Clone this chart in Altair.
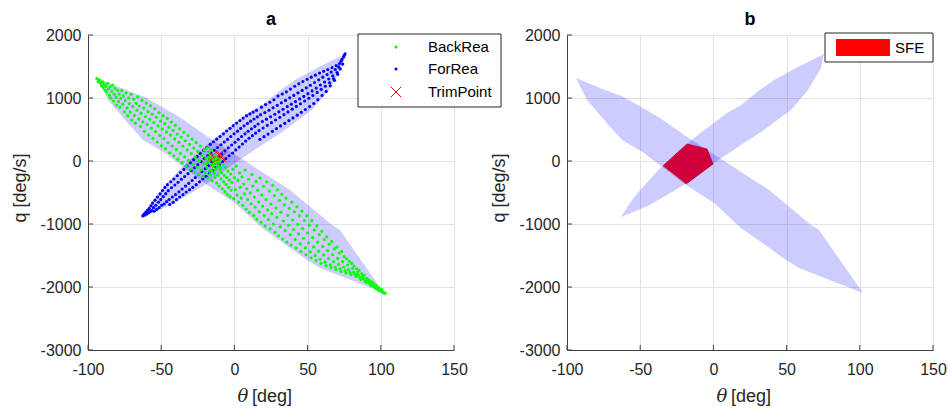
import altair as alt
import pandas as pd

FONT = "Liberation Sans"
TXT = "#262626"
AXC = "#404040"

x_ticks = [-100, -50, 0, 50, 100, 150]
y_ticks = [-3000, -2000, -1000, 0, 1000, 2000]
panel_titles = ["a", "b"]
x_title_sym = ["θ"]
x_title_unit = ["[deg]"]
y_title = ["q [deg/s]"]
legend_a_labels = ["BackRea", "ForRea", "TrimPoint"]
legend_b_labels = ["SFE"]

# BackRea reachable points (theta [deg], q [deg/s])
back_rea = [
    (-94.0, 1310), (-93.1, 1262), (-92.4, 1288), (-91.7, 1241), (-90.8, 1196), (-90.1, 1255),
    (-89.6, 1168), (-88.9, 1219), (-88.3, 1127), (-87.7, 1184), (-87.2, 1095), (-86.6, 1232),
    (-86.1, 1143), (-85.4, 1041), (-85.0, 1178), (-84.3, 998), (-83.8, 1106), (-83.2, 1204),
    (-82.7, 952), (-82.1, 1061), (-81.6, 1152), (-80.9, 1013), (-80.4, 887), (-79.8, 1121),
    (-79.1, 944), (-78.7, 1062), (-78.2, 851), (-77.6, 993), (-76.9, 1117), (-76.3, 902),
    (-75.8, 1034), (-75.1, 779), (-74.6, 958), (-74.0, 1082), (-73.4, 843), (-72.9, 721),
    (-72.3, 1003), (-71.8, 912), (-71.2, 776), (-70.6, 1058), (-70.1, 651), (-69.5, 867),
    (-68.8, 981), (-68.4, 724), (-67.7, 601), (-67.1, 915), (-66.6, 805), (-66.0, 1019),
    (-65.3, 668), (-64.9, 873), (-64.2, 548), (-63.7, 759), (-63.1, 962), (-62.5, 623),
    (-61.9, 841), (-61.4, 472), (-60.8, 705), (-60.2, 919), (-59.6, 584), (-59.0, 783),
    (-58.5, 412), (-57.9, 661), (-57.3, 876), (-56.7, 519), (-56.2, 742), (-55.6, 358),
    (-55.0, 611), (-54.4, 829), (-53.9, 466), (-53.3, 694), (-52.7, 301), (-52.2, 557),
    (-51.5, 768), (-51.0, 405), (-50.4, 632), (-49.8, 243), (-49.3, 508), (-48.7, 721),
    (-48.1, 356), (-47.6, 592), (-47.0, 197), (-46.4, 462), (-45.9, 676), (-45.3, 289),
    (-44.8, 534), (-44.2, 131), (-43.6, 411), (-43.1, 619), (-42.5, 238), (-41.9, 487),
    (-41.4, 82), (-40.8, 352), (-40.3, 566), (-39.7, 181), (-39.1, 429), (-38.6, 29),
    (-38.0, 296), (-37.4, 512), (-36.9, 122), (-36.3, 381), (-35.7, -31), (-35.2, 238),
    (-34.6, 457), (-34.0, 68), (-33.5, 322), (-32.9, -82), (-32.3, 177), (-31.7, 404),
    (-31.2, 8), (-30.6, 263), (-30.1, -129), (-29.5, 119), (-28.9, 346), (-28.4, -51),
    (-27.8, 207), (-27.2, -176), (-26.7, 61), (-26.1, 291), (-25.5, -98), (-25.0, 153),
    (-24.4, -212), (-23.9, 5), (-23.3, 238), (-22.7, -143),
    (-22.2, 88), (-21.6, -247), (-21.1, -39), (-20.6, 172), (-20.0, -188), (-19.5, 41),
    (-19.1, -96), (-18.6, 211), (-18.2, -271), (-17.8, -12), (-17.3, 127), (-16.9, -158),
    (-16.4, 63), (-16.0, -53), (-15.6, 178), (-15.2, -311), (-14.8, -88), (-14.3, 19),
    (-13.9, -196), (-13.5, 96), (-13.0, -132), (-12.6, -18), (-12.2, -348), (-11.7, 52),
    (-11.3, -227), (-10.9, -71), (-10.4, -398), (-10.0, -140), (-9.6, 11), (-9.1, -283),
    (-8.7, -186), (-8.3, -441), (-7.8, -58), (-7.4, -329), (-7.0, -227), (-6.5, -487),
    (-6.1, -104), (-5.7, -372), (-5.2, -262), (-4.8, -531), (-4.4, -161), (-3.9, -418),
    (-3.5, -303), (-3.0, -566), (-2.6, -206), (-2.2, -462),
    (-14.1, -42), (-12.9, 33), (-11.9, -104), (-15.4, -151), (-16.6, -212), (-13.3, -262),
    (-10.7, -19), (-9.4, -109), (-17.6, 58), (-18.9, -34),
    (-1.6, -341), (-1.1, -129), (-0.5, -598), (0.1, -263), (0.7, -452), (1.2, -81),
    (1.8, -540), (2.3, -307), (2.9, -652), (3.5, -189), (4.0, -418), (4.6, -588),
    (5.1, -251), (5.7, -704), (6.3, -366), (6.8, -523), (7.4, -143), (8.0, -762),
    (8.5, -441), (9.1, -611), (9.7, -289), (10.2, -813), (10.8, -507), (11.4, -678),
    (11.9, -215), (12.5, -397), (13.1, -864), (13.6, -571), (14.2, -731), (14.8, -324),
    (15.3, -926), (15.9, -463), (16.5, -652), (17.0, -808), (17.6, -271), (18.2, -974),
    (18.7, -538), (19.3, -716), (19.9, -402), (20.4, -865), (21.0, -1031), (21.6, -612),
    (22.1, -329), (22.7, -777), (23.3, -928), (23.8, -478), (24.4, -1078), (25.0, -683),
    (25.5, -837), (26.1, -386), (26.7, -1001), (27.3, -549), (27.8, -1133), (28.4, -748),
    (29.0, -893), (29.5, -457), (30.1, -1186), (30.7, -627), (31.3, -1042), (31.8, -812),
    (32.4, -529), (33.0, -1238), (33.5, -952), (34.1, -694), (34.7, -1104), (35.2, -589),
    (35.8, -1287), (36.4, -863), (37.0, -1021), (37.5, -752), (38.1, -1172), (38.7, -1334),
    (39.2, -654), (39.8, -936), (40.4, -1089), (41.0, -806), (41.5, -1246), (42.1, -1381),
    (42.7, -727), (43.2, -1004), (43.8, -1157), (44.4, -872), (45.0, -1313), (45.5, -1436),
    (46.1, -793), (46.7, -1071), (47.2, -1226), (47.8, -945), (48.4, -1378), (48.9, -1488),
    (49.5, -868), (50.1, -1143), (50.7, -1297), (51.2, -1018), (51.8, -1441), (52.4, -1536),
    (52.9, -947), (53.5, -1215), (54.1, -1364), (54.6, -1092), (55.2, -1502), (55.8, -1582),
    (56.3, -1029), (56.9, -1287), (57.5, -1431), (58.0, -1168), (58.6, -1559), (59.2, -1624),
    (59.7, -1117), (60.3, -1356), (60.9, -1492), (61.4, -1246), (62.0, -1606), (62.6, -1661),
    (63.1, -1203), (63.7, -1423), (64.3, -1547), (64.8, -1322), (65.4, -1649), (66.0, -1694),
    (66.5, -1281), (67.1, -1488), (67.7, -1598), (68.2, -1395), (68.8, -1683), (69.4, -1722),
    (69.9, -1368), (70.5, -1545), (71.1, -1641), (71.6, -1461), (72.2, -1711), (72.8, -1752),
    (73.3, -1435), (73.9, -1597), (74.5, -1683), (75.0, -1519), (75.6, -1740), (76.2, -1779),
    (76.7, -1552), (77.3, -1651), (77.9, -1724), (78.4, -1591), (79.0, -1768), (79.6, -1804),
    (80.1, -1625), (80.7, -1702), (81.3, -1765), (81.8, -1668), (82.4, -1797), (83.0, -1832),
    (83.5, -1712), (84.1, -1768), (84.7, -1812), (85.2, -1737), (85.8, -1851), (86.4, -1880),
    (86.9, -1786), (87.5, -1826), (88.1, -1867), (88.6, -1811), (89.2, -1903), (89.8, -1929),
    (90.3, -1862), (90.9, -1889), (91.5, -1930), (92.0, -1892), (92.6, -1952), (93.2, -1973),
    (93.7, -1917), (94.3, -1944), (94.9, -1990), (95.4, -1955), (96.0, -2003), (96.6, -2018),
    (97.1, -1982), (97.7, -2031), (98.3, -2047), (98.8, -2012), (99.4, -2056), (100.0, -2066),
    (100.6, -2041), (101.2, -2078), (101.8, -2089), (102.4, -2094), (103.0, -2101),
]

# ForRea reachable points
for_rea = [
    (-62.6, -872), (-61.8, -841), (-61.2, -858), (-60.5, -812), (-59.9, -843), (-59.3, -781),
    (-58.8, -826), (-58.1, -752), (-57.6, -804), (-57.0, -711), (-56.4, -787), (-55.9, -668),
    (-55.3, -741), (-54.8, -797), (-54.2, -622), (-53.7, -702), (-53.1, -768), (-52.5, -571),
    (-51.9, -655), (-51.4, -741), (-50.8, -523), (-50.3, -612), (-49.7, -704), (-49.1, -468),
    (-48.6, -566), (-48.0, -683), (-47.5, -419), (-46.9, -518), (-46.3, -646), (-45.8, -376),
    (-45.2, -471), (-44.6, -611), (-44.1, -689), (-43.5, -329), (-43.0, -424), (-42.4, -572),
    (-41.8, -656), (-41.3, -286), (-40.7, -381), (-40.2, -533), (-39.6, -612), (-39.0, -234),
    (-38.5, -337), (-37.9, -489), (-37.4, -571), (-36.8, -183), (-36.2, -290), (-35.7, -444),
    (-35.1, -535), (-34.5, -133), (-34.0, -247), (-33.4, -398), (-32.9, -492), (-32.3, -81),
    (-31.7, -201), (-31.2, -356), (-30.6, -455), (-30.0, -28), (-29.5, -151), (-28.9, -309),
    (-28.4, -418), (-27.8, 21), (-27.2, -107), (-26.7, -262), (-26.1, -376), (-25.5, 69),
    (-25.0, -58), (-24.4, -214), (-23.8, -331), (-23.3, 118), (-22.7, -9), (-22.2, -167),
    (-21.6, -286), (-21.0, 172), (-20.5, 38), (-19.9, -121), (-19.4, -244), (-18.8, 216),
    (-18.2, 81), (-17.7, -73), (-17.1, -197), (-16.5, 264), (-16.0, 127), (-15.4, -26),
    (-14.9, -152), (-14.3, 305), (-13.7, 169), (-13.2, 21), (-12.6, -103), (-12.1, 346),
    (-11.5, 214), (-10.9, 68), (-10.4, -57), (-9.8, 389), (-9.2, 258), (-8.7, 116),
    (-8.1, -8), (-7.5, 431), (-7.0, 302), (-6.4, 162), (-5.9, 37), (-5.3, 476),
    (-4.7, 343), (-4.2, 209), (-3.6, 83), (-3.0, 519), (-2.5, 389), (-1.9, 254),
    (-1.3, 127), (-0.8, 561), (-0.2, 432), (0.4, 298), (0.9, 176), (1.5, 602),
    (2.1, 474), (2.6, 344), (3.2, 221), (3.8, 641), (4.3, 517), (4.9, 389),
    (5.5, 270), (6.0, 681), (6.6, 558), (7.2, 431), (7.7, 316), (8.3, 719),
    (8.9, 597), (9.4, 472), (10.0, 361), (10.6, 748), (11.1, 632), (11.7, 511),
    (12.3, 402), (12.8, 776), (13.4, 666), (14.0, 549), (14.5, 442), (15.1, 804),
    (15.7, 701), (16.2, 588), (16.8, 483), (17.4, 344), (17.9, 736), (18.5, 854),
    (19.1, 627), (19.6, 524), (20.2, 386), (20.8, 769), (21.3, 895), (21.9, 664),
    (22.5, 566), (23.0, 427), (23.6, 806), (24.2, 932), (24.7, 703), (25.3, 608),
    (25.9, 471), (26.4, 845), (27.0, 972), (27.6, 742), (28.1, 651), (28.7, 514),
    (29.3, 884), (29.8, 1031), (30.4, 781), (31.0, 693), (31.5, 557), (32.1, 924),
    (32.7, 1063), (33.2, 821), (33.8, 736), (34.4, 598), (34.9, 962), (35.5, 1098),
    (36.1, 862), (36.6, 779), (37.2, 641), (37.8, 1003), (38.3, 1141), (38.9, 902),
    (39.5, 823), (40.0, 684), (40.6, 1041), (41.2, 1187), (41.7, 943), (42.3, 866),
    (42.9, 728), (43.4, 1082), (44.0, 1226), (44.6, 985), (45.1, 909), (45.7, 772),
    (46.3, 1121), (46.8, 1262), (47.4, 1027), (48.0, 952), (48.5, 818), (49.1, 1161),
    (49.7, 1297), (50.2, 1069), (50.8, 996), (51.4, 864), (51.9, 1203), (52.5, 1331),
    (53.1, 1113), (53.6, 1041), (54.2, 913), (54.8, 1246), (55.3, 1362), (55.9, 1158),
    (56.5, 1089), (57.0, 973), (57.6, 1288), (58.2, 1395), (58.7, 1206), (59.3, 1137),
    (59.9, 1041), (60.4, 1331), (61.0, 1424), (61.6, 1253), (62.1, 1187), (62.7, 1104),
    (63.3, 1372), (63.8, 1452), (64.4, 1302), (65.0, 1241), (65.5, 1193), (66.1, 1412),
    (66.7, 1483), (67.2, 1351), (67.8, 1306), (68.4, 1281), (68.9, 1452), (69.5, 1514),
    (70.1, 1403), (70.6, 1376), (71.2, 1494), (71.8, 1548), (72.3, 1461), (72.9, 1585),
    (73.5, 1612), (74.0, 1538), (74.6, 1652), (75.1, 1677), (75.6, 1703),
]

trim_point = [(-15, 80), (-12, 40), (-10, 110), (-13, -10), (-9, 60), (-16, 20)]

# convex hulls of the reachable sets (polygon vertices)
hull_back = [
    (-93.9, 1317), (-77.5, 1159), (-61.1, 1016), (-36.5, 683), (-18.0, 381), (38.0, -460),
    (66.7, -1016), (72.1, -1095), (102.2, -2095), (58.5, -1698), (49.6, -1571), (18.9, -1063),
    (0.4, -667), (-18.7, -381), (-47.4, 127), (-62.4, 333), (-74.7, 651), (-86.3, 968),
]
hull_for = [
    (-63.1, -889), (-54.2, -571), (-35.8, -95), (-13.3, 365), (9.3, 762), (18.9, 889),
    (29.8, 1095), (41.4, 1286), (57.8, 1492), (75.5, 1698), (73.5, 1476), (64.6, 1127),
    (53.0, 810), (32.5, 460), (18.9, 254), (0.4, -32), (-20.1, -381), (-44.7, -714),
]
sfe_region = [(-34.4, -79), (-18.0, 270), (-4.4, 190), (-0.3, -48), (-18.7, -365)]


def pts(lst):
    return pd.DataFrame(lst, columns=["theta", "q"])


def poly(lst, name):
    df = pts(lst)
    df["i"] = range(len(df))
    df["poly"] = name
    return df


W, H = 366, 315
xs = alt.Scale(domain=[-100, 150], nice=False, zero=False)
ys = alt.Scale(domain=[-3000, 2000], nice=False, zero=False)
common_axis = dict(title=None, grid=True, ticks=False, tickSize=0, labelFontSize=16,
                   labelFont=FONT, labelColor=TXT, domainColor=AXC, domainWidth=1,
                   gridColor="#e3e3e3", gridWidth=1, labelFlush=False, labelOverlap=False,
                   labelExpr="datum.value + ''")
xaxis = alt.Axis(values=x_ticks, labelPadding=11, **common_axis)
yaxis = alt.Axis(values=y_ticks, labelPadding=7, **common_axis)
X = alt.X("theta:Q", scale=xs, axis=xaxis)
Y = alt.Y("q:Q", scale=ys, axis=yaxis)

hull_df = pd.concat([poly(hull_back, "back"), poly(hull_for, "for")], ignore_index=True)


def hull_layer():
    return alt.Chart(hull_df).mark_line(
        fill="#0000ff", fillOpacity=0.2, strokeOpacity=0, interpolate="linear"
    ).encode(x=X, y=Y, order="i:Q", detail="poly:N")


def frame_layers():
    tick_y = alt.Chart(pd.DataFrame({"q": y_ticks})).mark_rule(color=AXC, strokeWidth=1).encode(
        y=Y, x=alt.value(0), x2=alt.value(5))
    tick_x = alt.Chart(pd.DataFrame({"theta": x_ticks})).mark_rule(color=AXC, strokeWidth=1).encode(
        x=X, y=alt.value(H), y2=alt.value(H - 5))
    yt = alt.Chart(pd.DataFrame({"t": y_title})).mark_text(
        angle=270, fontSize=18, font=FONT, color=TXT, align="center", baseline="middle").encode(
        x=alt.value(-67), y=alt.value(153), text="t:N")
    xt1 = alt.Chart(pd.DataFrame({"t": x_title_sym})).mark_text(
        fontSize=18, font="DejaVu Serif", fontStyle="italic", color=TXT,
        align="center", baseline="alphabetic").encode(
        x=alt.value(155), y=alt.value(367), text="t:N")
    xt2 = alt.Chart(pd.DataFrame({"t": x_title_unit})).mark_text(
        fontSize=18, font=FONT, color=TXT, align="left", baseline="alphabetic").encode(
        x=alt.value(164), y=alt.value(367), text="t:N")
    return [tick_y, tick_x, yt, xt1, xt2]


def title(t):
    return alt.TitleParams(text=t, fontSize=18, fontWeight="bold", font=FONT,
                           color="black", offset=-2, anchor="middle")


# ---------- panel a ----------
blue_pts = alt.Chart(pts(for_rea)).mark_circle(size=10, color="#0000ff", opacity=1).encode(x=X, y=Y)
trim_pts = alt.Chart(pts(trim_point)).mark_point(
    shape="M-1,-1L1,1M-1,1L1,-1", size=100, color="#ff0000", strokeWidth=1,
    filled=False, opacity=1).encode(x=X, y=Y)
green_pts = alt.Chart(pts(back_rea)).mark_circle(size=10, color="#00ff00", opacity=1).encode(x=X, y=Y)

leg_a_df = pd.DataFrame({"t": legend_a_labels})
row_y = [12, 34, 57]
leg_a = [alt.Chart(leg_a_df.iloc[[0]]).mark_rect(fill="white", stroke="#262626", strokeWidth=1).encode(
    x=alt.value(270), x2=alt.value(413), y=alt.value(-1), y2=alt.value(72))]
leg_a.append(alt.Chart(leg_a_df.iloc[[0]]).mark_circle(size=10, color="#00ff00", opacity=1).encode(
    x=alt.value(308), y=alt.value(row_y[0])))
leg_a.append(alt.Chart(leg_a_df.iloc[[1]]).mark_circle(size=10, color="#0000ff", opacity=1).encode(
    x=alt.value(308), y=alt.value(row_y[1])))
leg_a.append(alt.Chart(leg_a_df.iloc[[2]]).mark_point(
    shape="M-1,-1L1,1M-1,1L1,-1", size=110, color="#ff0000", strokeWidth=1,
    filled=False, opacity=1).encode(x=alt.value(308), y=alt.value(row_y[2])))
for k in range(3):
    leg_a.append(alt.Chart(leg_a_df.iloc[[k]]).mark_text(
        fontSize=15, font=FONT, color="black", align="left", baseline="middle").encode(
        x=alt.value(340), y=alt.value(row_y[k]), text="t:N"))

panel_a = alt.layer(
    hull_layer(), blue_pts, trim_pts, green_pts, *frame_layers(), *leg_a
).properties(width=W, height=H, title=title(panel_titles[0]))

# ---------- panel b ----------
sfe_layer = alt.Chart(poly(sfe_region, "sfe")).mark_line(
    fill="#d0003a", fillOpacity=1, stroke="#d0003a", strokeWidth=1, interpolate="linear"
).encode(x=X, y=Y, order="i:Q")

leg_b_df = pd.DataFrame({"t": legend_b_labels})
leg_b = [
    alt.Chart(leg_b_df).mark_rect(fill="white", stroke="#262626", strokeWidth=1).encode(
        x=alt.value(258), x2=alt.value(366), y=alt.value(-2), y2=alt.value(27)),
    alt.Chart(leg_b_df).mark_rect(fill="#ff0000").encode(
        x=alt.value(269), x2=alt.value(323), y=alt.value(4), y2=alt.value(21)),
    alt.Chart(leg_b_df).mark_text(fontSize=15, font=FONT, color="black", align="left",
                                  baseline="middle").encode(
        x=alt.value(328), y=alt.value(12.5), text="t:N"),
]

panel_b = alt.layer(
    hull_layer(), sfe_layer, *frame_layers(), *leg_b
).properties(width=W, height=H, title=title(panel_titles[1]))

chart = alt.hconcat(panel_a, panel_b, spacing=113, bounds="flush").properties(
    padding={"left": 11, "top": 10, "right": 0, "bottom": 0}
).configure_view(strokeWidth=0).configure(background="white")

chart.save("out.html", embed_options={"renderer": "svg", "actions": False})
